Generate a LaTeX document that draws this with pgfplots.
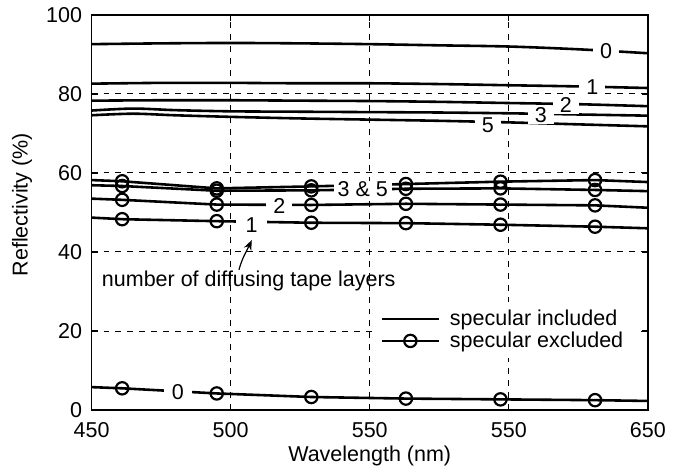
\documentclass[border=0pt]{standalone}
\usepackage{fontspec}
\setmainfont{Liberation Sans}
\usepackage{pgfplots}
\pgfplotsset{compat=1.18}
\usetikzlibrary{arrows.meta}

\begin{document}
\fontsize{10.8}{12.9}\selectfont
\begin{tikzpicture}[lab/.style={fill=white, inner xsep=3.5pt, inner ysep=0.5pt, text=black}]
\begin{axis}[
    scale only axis,
    width=279.5pt, height=198.5pt,
    xmin=450, xmax=650, ymin=0, ymax=100,
    xtick={450,500,550,600,650},
    xticklabels={450,500,550,550,650},
    ytick={0,20,40,60,80,100},
    grid=major,
    grid style={black, line width=0.5pt, dash pattern=on 3pt off 3pt},
    axis line style={line width=0.6pt},
    tick align=inside,
    major tick length=3pt,
    tick style={black, line width=0.6pt},
    /pgf/number format/assume math mode=true,
    xticklabel style={yshift=-2.5pt},
    yticklabel style={xshift=-1pt},
    xlabel={Wavelength (nm)},
    ylabel={Reflectivity (\%)},
    xlabel style={at={(axis description cs:0.5,-0.115)}, anchor=center},
    ylabel style={at={(axis description cs:-0.125,0.52)}, anchor=center},
    legend style={at={(0.512,0.275)}, anchor=north west, draw=none, fill=white,
        row sep=-2.5pt, inner sep=2pt, cells={anchor=west},
        nodes={inner xsep=5pt}},
    legend image code/.code={\draw[mark repeat=2,mark phase=2,#1]
        plot coordinates {(0cm,0cm) (0.5cm,0cm) (1cm,0cm)};},
    incl/.style={black, line width=1.3pt, smooth, no markers},
    excl/.style={black, line width=1.3pt, mark=o, mark size=3.1pt,
        mark indices={2,3,4,5,6,7}, mark options={solid, line width=1.1pt}},
]
\addlegendimage{black, line width=1.3pt}
\addlegendentry{specular included}
\addlegendimage{black, line width=1.3pt, mark=o, mark size=3.1pt, mark options={solid, line width=1.1pt}}
\addlegendentry{specular excluded}

% specular included
\addplot[incl, forget plot] coordinates {
  (450,92.6) (475,92.8) (500,92.9) (525,92.8) (550,92.6) (575,92.3) (600,92.0) (625,91.3) (650,90.3)};
\addplot[incl, forget plot] coordinates {
  (450,82.6) (475,82.8) (500,82.8) (525,82.7) (550,82.7) (575,82.5) (600,82.2) (625,81.9) (650,81.5)};
\addplot[incl, forget plot] coordinates {
  (450,78.3) (475,78.4) (500,78.4) (525,78.3) (550,78.2) (575,78.0) (600,77.7) (625,77.4) (650,76.9)};
\addplot[incl, forget plot] coordinates {
  (450,75.8) (465,76.3) (480,75.9) (500,75.6) (525,75.5) (550,75.4) (575,75.3) (600,75.1) (625,74.8) (650,74.5)};
\addplot[incl, forget plot] coordinates {
  (450,74.6) (465,75.0) (480,74.6) (500,74.2) (525,73.8) (550,73.5) (575,73.2) (600,72.8) (625,72.3) (650,71.8)};

% specular excluded
\addplot[excl, forget plot] coordinates {
  (450,58.2) (461,57.9) (495,56.1) (529,56.6) (563,57.2) (597,57.8) (631,58.2) (650,57.7)};
\addplot[excl, forget plot] coordinates {
  (450,56.9) (461,56.7) (495,55.5) (529,55.6) (563,56.0) (597,56.1) (631,55.7) (650,55.4)};
\addplot[excl, forget plot] coordinates {
  (450,53.5) (461,53.2) (495,52.0) (529,51.9) (563,52.2) (597,52.0) (631,51.8) (650,51.2)};
\addplot[excl, forget plot] coordinates {
  (450,48.7) (461,48.3) (495,47.8) (529,47.4) (563,47.3) (597,46.9) (631,46.4) (650,46.0)};
\addplot[excl, forget plot] coordinates {
  (450,5.8) (461,5.5) (495,4.2) (529,3.3) (563,2.9) (597,2.7) (631,2.5) (650,2.3)};

% curve labels
\node[lab] at (axis cs:635,90.9) {0};
\node[lab] at (axis cs:630,81.8) {1};
\node[lab] at (axis cs:620.5,77.2) {2};
\node[lab] at (axis cs:611.5,74.6) {3};
\node[lab] at (axis cs:592.5,72.2) {5};
\node[lab, inner xsep=2pt] at (axis cs:547.5,55.8) {3 \& 5};
\node[lab] at (axis cs:517.5,51.6) {2};
\node[lab, inner xsep=5pt] at (axis cs:507.5,46.9) {1};
\node[lab, inner xsep=4pt] at (axis cs:481,4.5) {0};

\node at (axis cs:506.5,32.7) {number of diffusing tape layers};
\draw[black, line width=0.6pt, -{Stealth[length=5pt, width=4pt]}]
  (axis cs:503,35.5) to[out=75, in=245] (axis cs:507.6,43);
\end{axis}
\path (current axis.south west) ++(-46pt,-30pt) rectangle ++(336.5pt,236pt);
\end{tikzpicture}
\end{document}
